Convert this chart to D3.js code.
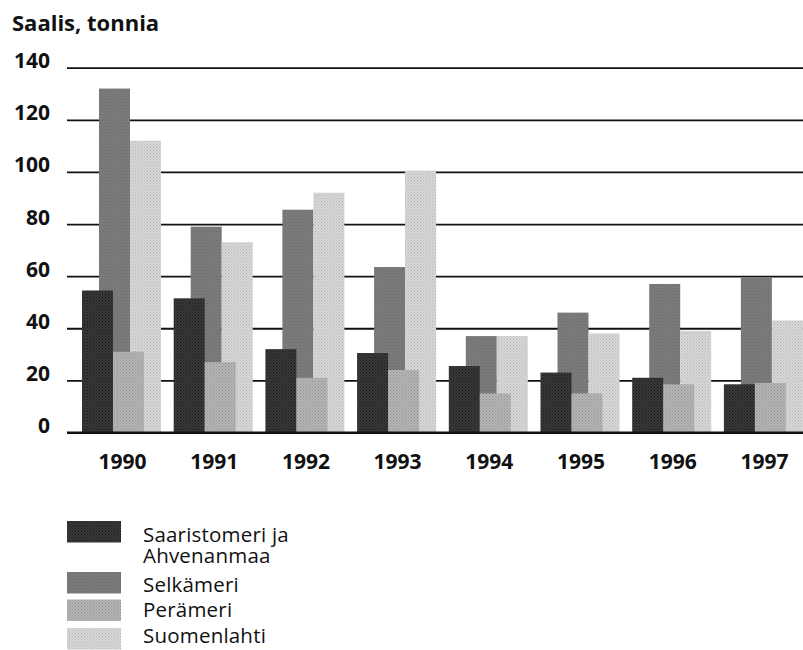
<!DOCTYPE html>
<html>
<head>
<meta charset="utf-8">
<script src="https://cdn.jsdelivr.net/npm/d3@7/dist/d3.min.js"></script>
<style>
  html, body { margin: 0; padding: 0; background: #fff; }
  svg { display: block; font-family: "Open Sans", Lato, sans-serif; }
</style>
</head>
<body>
<svg id="chart" width="803" height="650"></svg>
<script>
// ---- data ----
const years = ["1990", "1991", "1992", "1993", "1994", "1995", "1996", "1997"];
const seriesNames = ["Saaristomeri ja Ahvenanmaa", "Selkämeri", "Perämeri", "Suomenlahti"];
const saaristomeri = [54.5, 51.5, 32, 30.5, 25.5, 23, 21, 18.5];
const selkameri   = [132, 79, 85.5, 63.5, 37, 46, 57, 59.5];
const perameri    = [31, 27, 21, 24, 15, 15, 18.5, 19];
const suomenlahti = [112, 73, 92, 100.5, 37, 38, 39, 43];
const yTicks = [0, 20, 40, 60, 80, 100, 120, 140];
const yTitle = "Saalis, tonnia";

const svg = d3.select("#chart");

// patterns (halftone look)
const defs = svg.append("defs");
function halftone(id, base, dot) {
  const p = defs.append("pattern").attr("id", id)
    .attr("width", 3).attr("height", 3).attr("patternUnits", "userSpaceOnUse");
  p.append("rect").attr("width", 3).attr("height", 3).attr("fill", base);
  p.append("rect").attr("x", 0).attr("y", 0).attr("width", 1).attr("height", 1).attr("fill", dot);
  p.append("rect").attr("x", 1.5).attr("y", 1.5).attr("width", 1).attr("height", 1).attr("fill", dot);
}
halftone("p0", "#3a3a3a", "#161616");
halftone("p1", "#7c7c7c", "#6a6a6a");
halftone("p2", "#b6b6b6", "#8e8e8e");
halftone("p3", "#d8d8d8", "#b4b4b4");

const series = [
  { name: seriesNames[0], values: saaristomeri, fill: "url(#p0)", slot: 0, back: false },
  { name: seriesNames[1], values: selkameri,   fill: "url(#p1)", slot: 0, back: true },
  { name: seriesNames[2], values: perameri,    fill: "url(#p2)", slot: 1, back: false },
  { name: seriesNames[3], values: suomenlahti, fill: "url(#p3)", slot: 1, back: true }
];

// scales
const y = d3.scaleLinear().domain([0, 140]).range([432.5, 67.7]);
const x = d3.scaleBand().domain(years).range([82, 82 + 8 * 91.7]).padding(0);
const barW = 31;
const slot = d3.scaleBand().domain([0, 1]).range([0, 2 * barW]).padding(0);
const backShift = 17;

// grid + y axis
const gridLeft = 67, gridRight = 803;
const yAxis = d3.axisLeft(y).tickValues(yTicks).tickSizeInner(-(gridRight - gridLeft)).tickSizeOuter(0).tickPadding(17);
const gy = svg.append("g").attr("transform", `translate(${gridLeft},0)`).call(yAxis);
gy.select(".domain").remove();
gy.selectAll(".tick line").attr("stroke", "#111").attr("stroke-width", 1.8);
gy.selectAll(".tick text").attr("dy", "0").attr("y", 0)
  .attr("font-family", "'Open Sans', sans-serif")
  .attr("font-size", 21).attr("font-weight", 700).attr("fill", "#111");

// bars: back series first, then front
const ordered = series.filter(s => s.back).concat(series.filter(s => !s.back));
ordered.forEach(s => {
  svg.append("g").selectAll("rect").data(s.values).join("rect")
    .attr("x", (d, i) => x(years[i]) + slot(s.slot) + (s.back ? backShift : 0))
    .attr("y", d => y(d))
    .attr("width", barW)
    .attr("height", d => y(0) - y(d))
    .attr("fill", s.fill);
});

// zero line on top
svg.append("line").attr("x1", gridLeft).attr("x2", gridRight)
  .attr("y1", y(0)).attr("y2", y(0)).attr("stroke", "#111").attr("stroke-width", 1.8);

// x labels
const groupW = 2 * barW + backShift;
svg.append("g").selectAll("text").data(years).join("text")
  .attr("x", d => x(d) + groupW / 2 + 1)
  .attr("y", 469)
  .attr("text-anchor", "middle")
  .attr("font-size", 21).attr("font-weight", 700).attr("fill", "#111")
  .text(d => d);

// title
svg.append("text").attr("x", 12).attr("y", 31)
  .attr("font-size", 22).attr("font-weight", 700).attr("fill", "#111")
  .text(yTitle);

// legend: swatches, and one tightly-leaded text block (as in the reference)
const legendRows = [
  { fill: "url(#p0)", top: 521 },
  { fill: "url(#p1)", top: 572 },
  { fill: "url(#p2)", top: 599.5 },
  { fill: "url(#p3)", top: 628 }
];
const legendLines = [
  { text: "Saaristomeri ja", base: 541.7 },
  { text: "Ahvenanmaa", base: 562.7 },
  { text: seriesNames[1], base: 592.0 },
  { text: seriesNames[2], base: 617.3 },
  { text: seriesNames[3], base: 642.7 }
];
const lg = svg.append("g");
lg.selectAll("rect").data(legendRows).join("rect")
  .attr("x", 67).attr("y", d => d.top).attr("width", 54).attr("height", 21.5).attr("fill", d => d.fill);
lg.append("text").attr("font-size", 20.5).attr("letter-spacing", 0.2).attr("fill", "#111")
  .selectAll("tspan").data(legendLines).join("tspan")
  .attr("x", 143).attr("y", d => d.base).text(d => d.text);
</script>
</body>
</html>
